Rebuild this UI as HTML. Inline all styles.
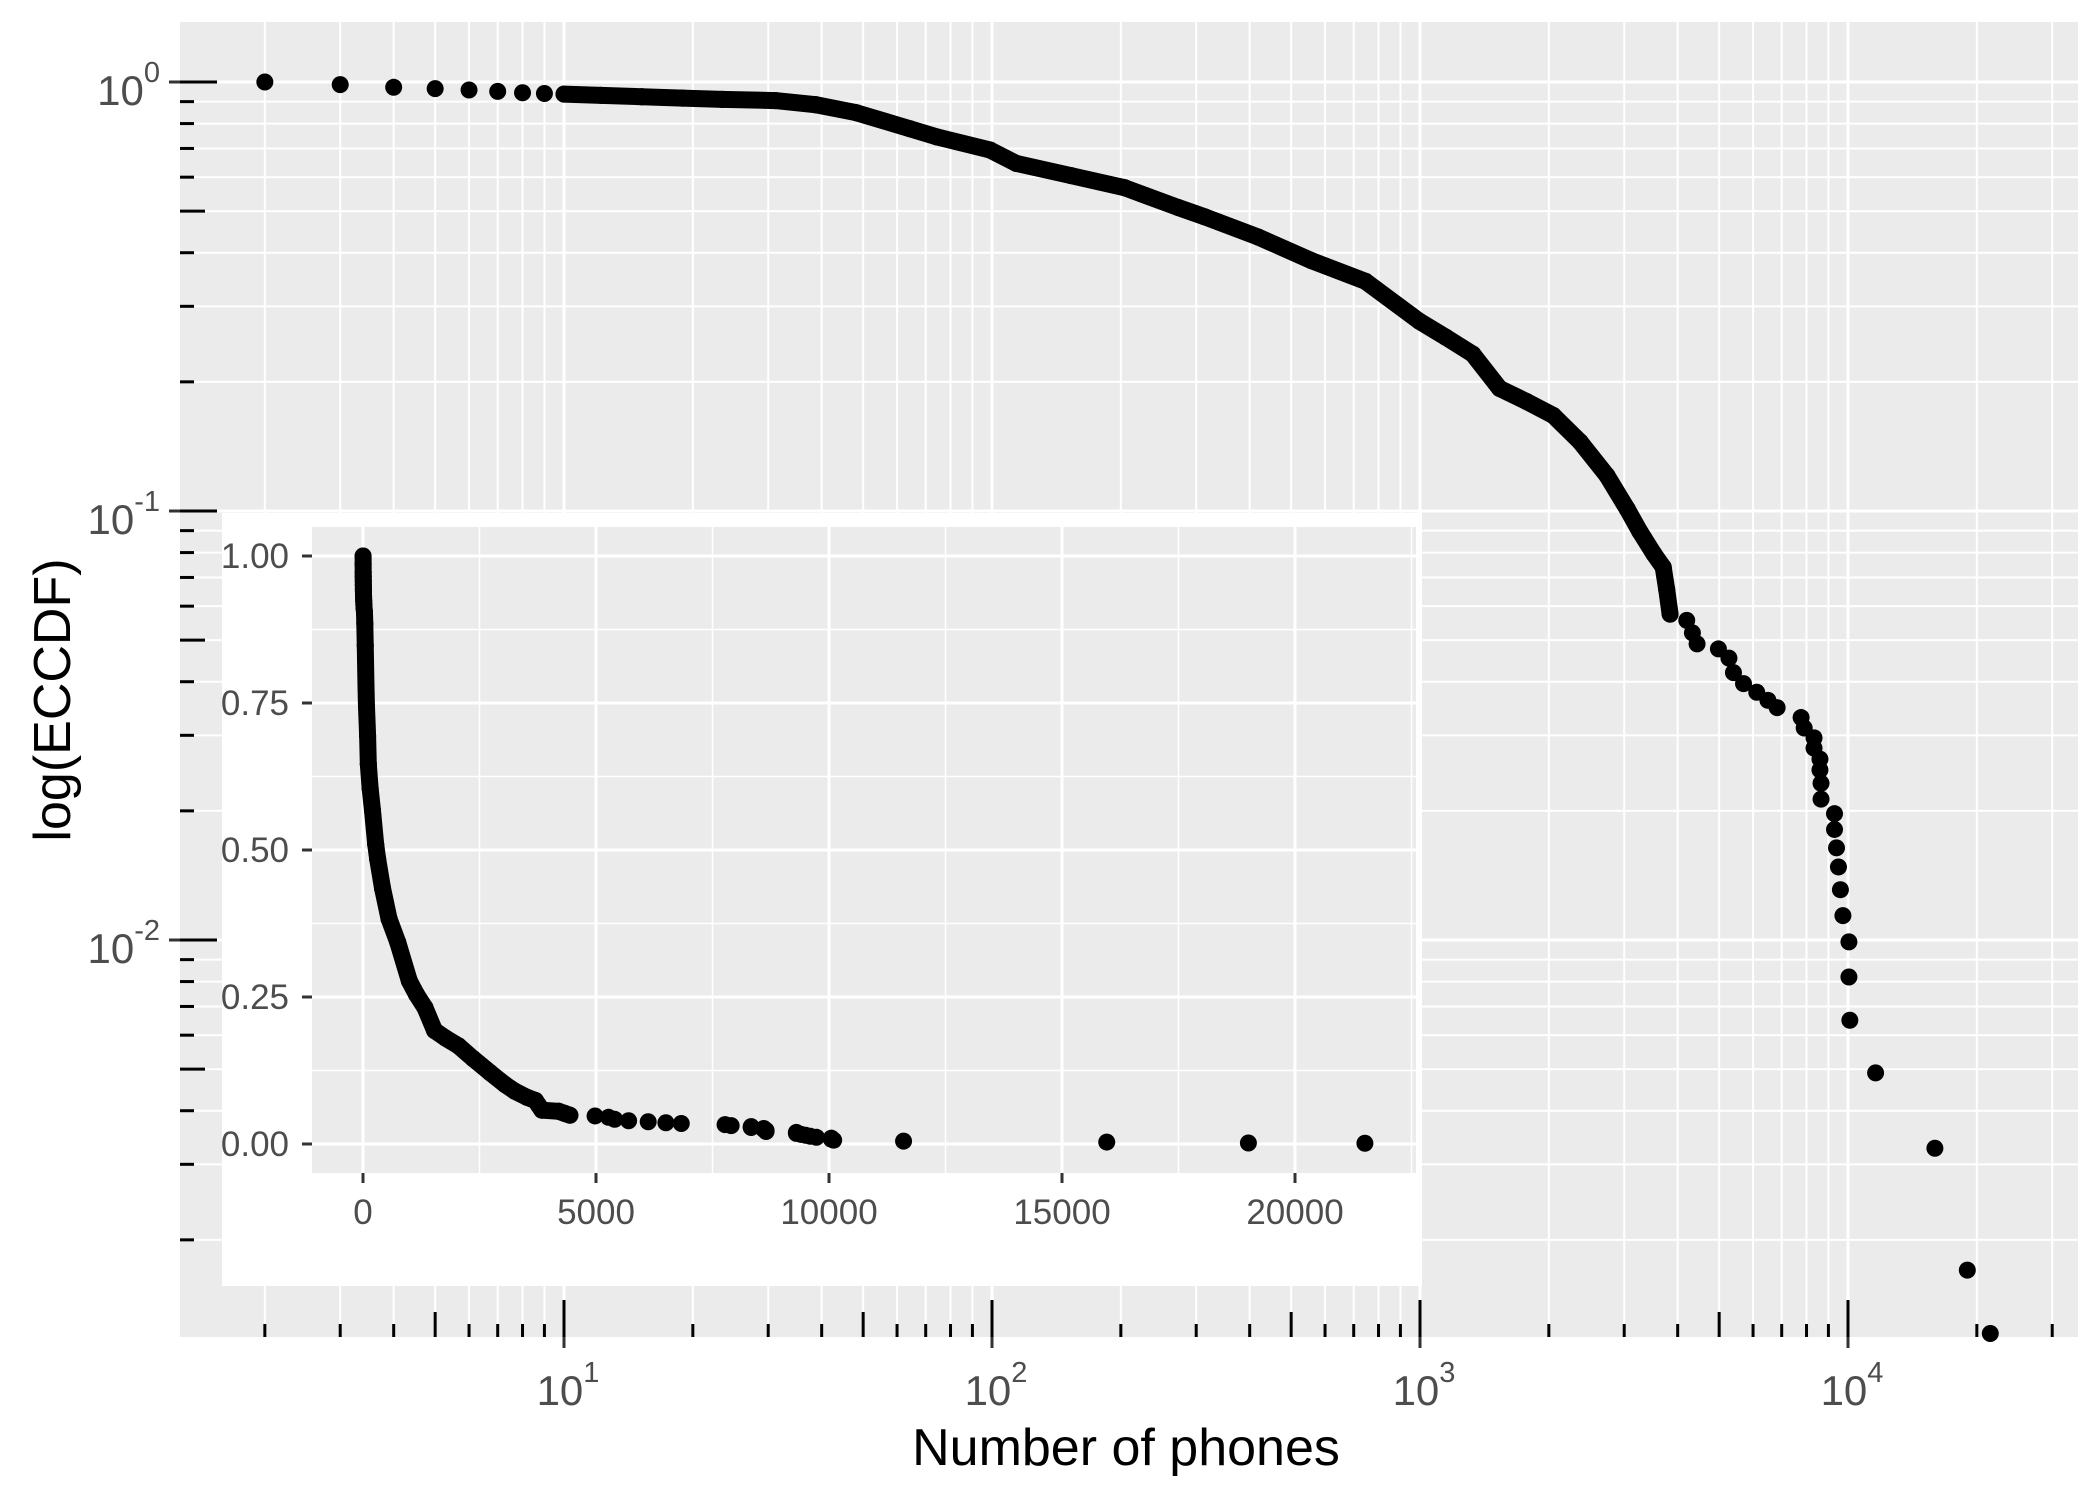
<!DOCTYPE html>
<html><head><meta charset="utf-8"><style>
html,body{margin:0;padding:0;background:#fff;}
svg{display:block;font-family:"Liberation Sans",Arial,sans-serif;}
</style></head><body>
<svg id="chart" width="2100" height="1499" viewBox="0 0 2100 1499" xmlns="http://www.w3.org/2000/svg">
<rect x="0" y="0" width="2100" height="1499" fill="#fff"/>
<g id="main"></g>
<g id="inset"></g>
<text x="1126" y="1465" font-size="52" text-anchor="middle" fill="#000">Number of phones</text>
<text transform="translate(70,700) rotate(-90)" font-size="52" text-anchor="middle" fill="#000">log(ECCDF)</text>
</svg>
<script>
const phones = [2,3,4,5,6,7,8,9,10,12.2,15.2,18.9,23.4,31.2,38.8,48.2,64.3,74.3,99,114,153,204,272,314,419,559,746,996,1150,1329,1535,1774,2048,2366,2733,3050,3260,3520,3700,3770,3840,4200,4330,4440,4980,5270,5400,5700,6120,6500,6830,7770,7900,8330,8330,8600,8600,8650,8650,9300,9300,9400,9500,9600,9730,10050,10050,10100,11600,15960,19000,21500];
const eccdf = [1,0.986,0.972,0.965,0.958,0.951,0.944,0.94,0.937,0.931,0.924,0.917,0.911,0.905,0.885,0.848,0.778,0.745,0.694,0.646,0.605,0.567,0.510,0.485,0.435,0.383,0.343,0.277,0.254,0.232,0.193,0.180,0.167,0.145,0.121,0.101,0.0897,0.0794,0.074,0.0657,0.0575,0.0556,0.052,0.049,0.0477,0.0454,0.042,0.0396,0.0378,0.0362,0.0348,0.033,0.0312,0.0296,0.028,0.0264,0.0249,0.0232,0.0213,0.0197,0.0181,0.0164,0.0148,0.0131,0.0114,0.0099,0.0082,0.0065,0.0049,0.00327,0.0017,0.00121];
const xDecades = [1,2,3,4];
const yDecades = [0,-1,-2];
const insetXTicks = [0,5000,10000,15000,20000];
const insetYTicks = [0,0.25,0.5,0.75,1];
const insetYLabels = ["0.00","0.25","0.50","0.75","1.00"];

const NS = "http://www.w3.org/2000/svg";
function mk(parent, tag, attrs){const e=document.createElementNS(NS,tag);for(const k in attrs)e.setAttribute(k,attrs[k]);parent.appendChild(e);return e;}

const PL=180, PR=2078, PT=22, PB=1337;
const xs = v => 564 + (Math.log10(v)-1)*428;
const ys = v => 82 - Math.log10(v)*429;
const main = document.getElementById('main');
const bg = mk(main,'rect',{x:PL,y:PT,width:PR-PL,height:PB-PT,fill:'#ebebeb'});


const grid = mk(main,'g',{});


for(let e=0;e<=4;e++){for(let k=1;k<=9;k++){const v=k*Math.pow(10,e);const px=xs(v);if(px<PL||px>PR)continue;
  const l=mk(grid,'line',{x1:px,x2:px,y1:PT,y2:PB,stroke:'#fff','stroke-width':k===1?3:2});
  
  }}
for(let e=0;e>=-3;e--){for(let k=1;k<=9;k++){const v=k*Math.pow(10,e);const py=ys(v);if(py<PT||py>PB)continue;
  const l=mk(grid,'line',{x1:PL,x2:PR,y1:py,y2:py,stroke:'#fff','stroke-width':k===1?3:2});
  
  }}
const ticks = mk(main,'g',{});


for(let e=-1;e<=4;e++){for(let k=1;k<=9;k++){const v=k*Math.pow(10,e);const px=xs(v);if(px<PL||px>PR)continue;
  const len=k===1?37:(k===5?25:13);
  const t=mk(ticks,'line',{x1:px,x2:px,y1:PB,y2:PB-len,stroke:'#000','stroke-width':3});
  
  }}
for(let e=0;e>=-3;e--){for(let k=1;k<=9;k++){const v=k*Math.pow(10,e);const py=ys(v);if(py<PT||py>PB)continue;
  const len=k===1?37:(k===5?25:14);
  const t=mk(ticks,'line',{x1:PL,x2:PL+len,y1:py,y2:py,stroke:'#000','stroke-width':3});
  
  }}
xDecades.forEach(d=>{const px=xs(Math.pow(10,d));
  const t=mk(main,'line',{x1:px,x2:px,y1:PB,y2:PB+11,stroke:'#333','stroke-width':3});
  
  
  const tx=mk(main,'text',{x:px+4,y:1405,'font-size':42,'text-anchor':'middle',fill:'#4d4d4d'});
  
  
  tx.innerHTML='10<tspan font-size="29" dy="-23">'+d+'</tspan>';});
yDecades.forEach(d=>{const py=ys(Math.pow(10,d));
  const t=mk(main,'line',{x1:PL-11,x2:PL,y1:py,y2:py,stroke:'#333','stroke-width':3});
  
  
  const tx=mk(main,'text',{x:160,y:py+23,'font-size':42,'text-anchor':'end',fill:'#4d4d4d'});
  
  
  tx.innerHTML='10<tspan font-size="29" dy="-23">'+d+'</tspan>';});
const mp = mk(main,'g',{});


for(let i=1;i<phones.length;i++){
  if(phones[i-1]>=10 && phones[i]<=3850){
    const l=mk(mp,'line',{x1:xs(phones[i-1]),y1:ys(eccdf[i-1]),x2:xs(phones[i]),y2:ys(eccdf[i]),stroke:'#000','stroke-width':17,'stroke-linecap':'round'});
    
    
  }
}
for(let i=0;i<phones.length;i++){
  const c=mk(mp,'circle',{cx:xs(phones[i]),cy:Math.min(ys(eccdf[i]),PB+3),r:8.5,fill:'#000'});
  
  
}

const inset=document.getElementById('inset');
const IL=312, IR=1416, IT=527, IB=1173;
const ix = v => 363 + v*233/5000;
const iy = v => 1144 - v*588;
const wb=mk(inset,'rect',{x:222,y:513,width:1200,height:773,fill:'#fff'});


const ip=mk(inset,'rect',{x:IL,y:IT,width:IR-IL,height:IB-IT,fill:'#ebebeb'});


for(let v=-2500;v<=22500;v+=2500){const px=ix(v);if(px<IL||px>IR)continue;
  const l=mk(inset,'line',{x1:px,x2:px,y1:IT,y2:IB,stroke:'#fff','stroke-width':v%5000===0?3:1.5});
  
  }
for(let v=-0.125;v<=1.125;v+=0.125){const py=iy(v);if(py<IT||py>IB)continue;
  const l=mk(inset,'line',{x1:IL,x2:IR,y1:py,y2:py,stroke:'#fff','stroke-width':Math.abs(v*4-Math.round(v*4))<1e-6?3:1.5});
  
  }
insetXTicks.forEach(v=>{const px=ix(v);
  const t=mk(inset,'line',{x1:px,x2:px,y1:IB,y2:IB+10,stroke:'#333','stroke-width':3});
  
  
  const tx=mk(inset,'text',{x:px,y:1224,'font-size':35,'text-anchor':'middle',fill:'#4d4d4d'});
  
  
  tx.textContent=String(v);});
insetYTicks.forEach((v,i)=>{const py=iy(v);
  const t=mk(inset,'line',{x1:IL-10,x2:IL,y1:py,y2:py,stroke:'#333','stroke-width':3});
  
  
  const tx=mk(inset,'text',{x:289,y:py+12,'font-size':35,'text-anchor':'end',fill:'#4d4d4d'});
  
  
  tx.textContent=insetYLabels[i];});
const ipts=mk(inset,'g',{});


for(let i=1;i<phones.length;i++){
  if(phones[i]<=4500){
    const l=mk(ipts,'line',{x1:ix(phones[i-1]),y1:iy(eccdf[i-1]),x2:ix(phones[i]),y2:iy(eccdf[i]),stroke:'#000','stroke-width':17,'stroke-linecap':'round'});
    
    
  }
}
for(let i=0;i<phones.length;i++){
  const c=mk(ipts,'circle',{cx:ix(phones[i]),cy:iy(eccdf[i]),r:8.5,fill:'#000'});
  
  
}
</script>
</body></html>
